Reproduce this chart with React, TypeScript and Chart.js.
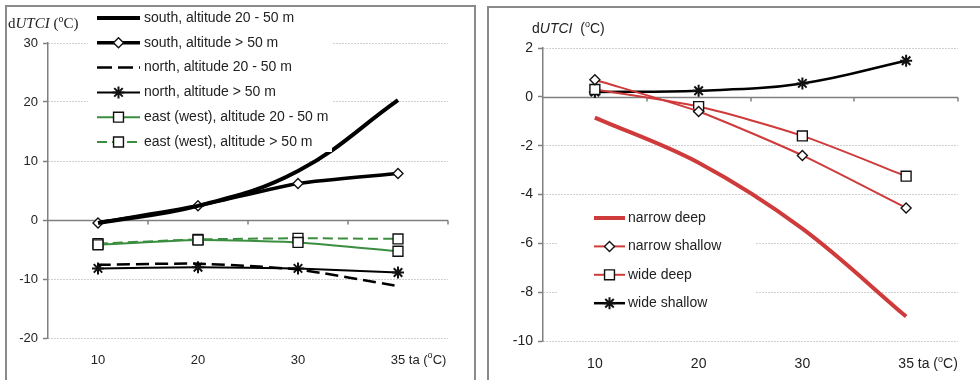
import React, { useEffect, useRef } from 'react';
import { Chart, registerables } from 'chart.js';
import { drawPoint } from 'chart.js/helpers';

Chart.register(...registerables);

// ---------------- data ----------------
const categories = ['10', '20', '30', '35'];

const leftLabels = [
  'south, altitude 20 - 50 m',
  'south, altitude > 50 m',
  'north, altitude 20 - 50 m',
  'north, altitude > 50 m',
  'east (west), altitude 20 - 50 m',
  'east (west), altitude > 50 m',
];
const southLow = [-0.5, 2.4, 8.3, 20.3];
const southHigh = [-0.5, 2.4, 6.2, 7.9];
const northLow = [-7.6, -7.4, -8.4, -11.2];
const northHigh = [-8.2, -8.0, -8.2, -8.9];
const eastLow = [-4.2, -3.4, -3.8, -5.3];
const eastHigh = [-4.0, -3.3, -3.1, -3.2];
const leftYMin = -20;
const leftYMax = 30;
const leftYStep = 10;

const rightLabels = ['narrow deep', 'narrow shallow', 'wide deep', 'wide shallow'];
const narrowDeep = [-0.85, -2.7, -5.4, -9.0];
const narrowShallow = [0.7, -0.6, -2.4, -4.55];
const wideDeep = [0.3, -0.4, -1.6, -3.25];
const wideShallow = [0.2, 0.25, 0.55, 1.48];
const rightYMin = -10;
const rightYMax = 2;
const rightYStep = 2;

// ---------------- styles ----------------
const SANS = "'Liberation Sans', Arial, Helvetica, sans-serif";
const SERIF = "'Liberation Serif', 'Times New Roman', serif";
const TEXT = '#222222';
const AXIS = '#808080';
const GRID = '#a0a0a0';
const RED = '#cf3a3a';
const GREEN = '#3b8e3f';

type Run = { t: string; font: string; dy?: number };

function drawRuns(ctx: CanvasRenderingContext2D, x: number, y: number, runs: Run[], baseline: CanvasTextBaseline = 'alphabetic') {
  ctx.save();
  ctx.fillStyle = TEXT;
  ctx.textAlign = 'left';
  ctx.textBaseline = baseline;
  let cx = x;
  for (const r of runs) {
    ctx.font = r.font;
    ctx.fillText(r.t, cx, y + (r.dy || 0));
    cx += ctx.measureText(r.t).width;
  }
  ctx.restore();
}

type LegendCfg = {
  box: [number, number, number, number];
  x0: number;
  x1: number;
  textX: number;
  y0: number;
  dy: number;
  font: string;
};

type OverlayCfg = {
  id: string;
  legend: LegendCfg;
  title: { x: number; y: number; runs: Run[] };
  unitRuns: Run[];
};

function overlayPlugin(o: OverlayCfg) {
  return {
    id: 'overlay_' + o.id,
    beforeDatasetsDraw(chart: any) {
      const { ctx, chartArea: a, scales } = chart;
      const y0 = Math.round(scales.y.getPixelForValue(0)) + 0.5;
      ctx.save();
      ctx.strokeStyle = AXIS;
      ctx.lineWidth = 1.5;
      ctx.beginPath();
      ctx.moveTo(a.left, y0);
      ctx.lineTo(a.right, y0);
      const n = categories.length;
      const w = (a.right - a.left) / n;
      for (let i = 1; i <= n; i++) {
        const x = Math.round(a.left + i * w);
        ctx.moveTo(x, y0);
        ctx.lineTo(x, y0 + 4);
      }
      ctx.stroke();
      ctx.restore();
    },
    afterDatasetsDraw(chart: any) {
      const { ctx } = chart;
      const L = o.legend;
      ctx.save();
      ctx.fillStyle = '#ffffff';
      ctx.fillRect(L.box[0], L.box[1], L.box[2], L.box[3]);
      chart.data.datasets.forEach((d: any, i: number) => {
        const y = L.y0 + i * L.dy;
        ctx.save();
        ctx.strokeStyle = d.borderColor;
        ctx.lineWidth = d.borderWidth;
        ctx.setLineDash(d.legendDash || d.borderDash || []);
        ctx.beginPath();
        ctx.moveTo(L.x0, y);
        ctx.lineTo(L.x1, y);
        ctx.stroke();
        ctx.setLineDash([]);
        if (d.pointRadius > 0) {
          ctx.fillStyle = d.pointBackgroundColor;
          ctx.strokeStyle = d.pointBorderColor;
          ctx.lineWidth = d.pointBorderWidth;
          drawPoint(ctx, { pointStyle: d.pointStyle, radius: d.pointRadius, rotation: 0, borderWidth: d.pointBorderWidth } as any, (L.x0 + L.x1) / 2, y);
        }
        ctx.fillStyle = TEXT;
        ctx.font = L.font;
        ctx.textBaseline = 'middle';
        ctx.textAlign = 'left';
        ctx.fillText(d.label, L.textX, y);
        ctx.restore();
      });
      ctx.restore();
    },
    afterDraw(chart: any) {
      const { ctx } = chart;
      drawRuns(ctx, o.title.x, o.title.y, o.title.runs);
      const xs = chart.scales.x;
      const last = categories.length - 1;
      let items: any[] = [];
      try {
        items = xs.getLabelItems();
      } catch (e) {
        items = [];
      }
      const it = items[last];
      ctx.save();
      const tickFont = xs.options.ticks.font;
      ctx.font = `${tickFont.size}px ${SANS}`;
      const lw = ctx.measureText(categories[last]).width;
      ctx.restore();
      const cx = xs.getPixelForValue(last) + lw / 2;
      if (it) {
        const ty = it.options.translation[1] + (it.textOffset || 0);
        drawRuns(ctx, cx, ty, o.unitRuns, it.options.textBaseline || 'middle');
      } else {
        drawRuns(ctx, cx, chart.chartArea.bottom + 22, o.unitRuns, 'middle');
      }
    },
  };
}

type Geo = { padTop: number; padRight: number; yWidth: number; xHeight: number; fontSize: number; xPad: number };

function baseOptions(yMin: number, yMax: number, step: number, g: Geo): any {
  return {
    responsive: false,
    animation: false,
    devicePixelRatio: 1,
    events: [],
    layout: { padding: { top: g.padTop, right: g.padRight, left: 0, bottom: 0 } },
    plugins: { legend: { display: false }, tooltip: { enabled: false }, title: { display: false } },
    scales: {
      x: {
        type: 'category',
        labels: categories,
        offset: true,
        grid: { display: false, drawTicks: false },
        border: { display: false },
        ticks: { font: { family: SANS, size: g.fontSize }, color: TEXT, padding: g.xPad, maxRotation: 0, autoSkip: false },
        afterFit: (s: any) => {
          s.height = g.xHeight;
        },
      },
      y: {
        min: yMin,
        max: yMax,
        ticks: { stepSize: step, font: { family: SANS, size: g.fontSize }, color: TEXT, padding: 5 },
        grid: {
          color: (c: any) => (c.tick && c.tick.value === 0 ? 'rgba(0,0,0,0)' : GRID),
          tickColor: AXIS,
          tickLength: 5,
          tickWidth: 1.5,
          lineWidth: 1,
          drawTicks: true,
        },
        border: { display: true, color: AXIS, width: 1.5, dash: [1, 2] },
        afterFit: (s: any) => {
          s.width = g.yWidth;
        },
      },
    },
  };
}

function marker(style: string, r: number, bw = 1.4) {
  return {
    pointStyle: style,
    pointRadius: r,
    pointHoverRadius: r,
    pointBackgroundColor: '#ffffff',
    pointBorderColor: '#111111',
    pointBorderWidth: bw,
  };
}

function makeLeft(canvas: HTMLCanvasElement) {
  const datasets = [
    { label: leftLabels[0], data: southLow, borderColor: '#000000', borderWidth: 4, pointRadius: 0, tension: 0.4 },
    { label: leftLabels[1], data: southHigh, borderColor: '#000000', borderWidth: 3.5, tension: 0.2, ...marker('rectRot', 5) },
    { label: leftLabels[2], data: northLow, borderColor: '#000000', borderWidth: 2.5, borderDash: [13, 6], legendDash: [15, 6], pointRadius: 0, tension: 0.2 },
    { label: leftLabels[3], data: northHigh, borderColor: '#000000', borderWidth: 2, tension: 0.1, ...marker('star', 6, 2) },
    { label: leftLabels[4], data: eastLow, borderColor: GREEN, borderWidth: 2, tension: 0.2, ...marker('rect', 7) },
    { label: leftLabels[5], data: eastHigh, borderColor: GREEN, borderWidth: 2, borderDash: [10, 5], tension: 0.2, ...marker('rect', 7) },
  ];
  const sf = (s: number, it = false) => `${it ? 'italic ' : ''}${s}px ${SERIF}`;
  const ss = (s: number) => `${s}px ${SANS}`;
  return new Chart(canvas, {
    type: 'line',
    data: { labels: categories, datasets: datasets as any },
    options: baseOptions(leftYMin, leftYMax, leftYStep, { padTop: 36, padRight: 26, yWidth: 41, xHeight: 42, fontSize: 13, xPad: 15 }),
    plugins: [
      overlayPlugin({
        id: 'left',
        legend: { box: [81, 0, 244, 145], x0: 90, x1: 133, textX: 137, y0: 11, dy: 24.8, font: `14px ${SANS}` },
        title: { x: 1, y: 21, runs: [{ t: 'd', font: sf(15) }, { t: 'UTCI', font: sf(15, true) }, { t: ' (', font: sf(15) }, { t: 'o', font: sf(10), dy: -6 }, { t: 'C)', font: sf(15) }] },
        unitRuns: [{ t: ' ta (', font: ss(13) }, { t: 'o', font: ss(9), dy: -5 }, { t: 'C)', font: ss(13) }],
      }),
    ],
  } as any);
}

function makeRight(canvas: HTMLCanvasElement) {
  const datasets = [
    { label: rightLabels[0], data: narrowDeep, borderColor: RED, borderWidth: 4, pointRadius: 0, tension: 0.35 },
    { label: rightLabels[1], data: narrowShallow, borderColor: RED, borderWidth: 2, tension: 0.2, ...marker('rectRot', 5) },
    { label: rightLabels[2], data: wideDeep, borderColor: RED, borderWidth: 2, tension: 0.25, ...marker('rect', 7) },
    { label: rightLabels[3], data: wideShallow, borderColor: '#000000', borderWidth: 2.5, tension: 0.4, ...marker('star', 6, 2) },
  ];
  const ss = (s: number, it = false) => `${it ? 'italic ' : ''}${s}px ${SANS}`;
  return new Chart(canvas, {
    type: 'line',
    data: { labels: categories, datasets: datasets as any },
    options: baseOptions(rightYMin, rightYMax, rightYStep, { padTop: 40, padRight: 22, yWidth: 54, xHeight: 39, fontSize: 14, xPad: 15 }),
    plugins: [
      overlayPlugin({
        id: 'right',
        legend: { box: [68, 194, 198, 118], x0: 105, x1: 136, textX: 139, y0: 210, dy: 28.4, font: `14px ${SANS}` },
        title: { x: 43, y: 25, runs: [{ t: 'd', font: ss(14) }, { t: 'UTCI', font: ss(14, true) }, { t: '  (', font: ss(14) }, { t: 'o', font: ss(9), dy: -6 }, { t: 'C)', font: ss(14) }] },
        unitRuns: [{ t: ' ta (', font: ss(14) }, { t: 'o', font: ss(9), dy: -5 }, { t: 'C)', font: ss(14) }],
      }),
    ],
  } as any);
}

function ChartCanvas(props: { left: number; top: number; width: number; height: number; make: (c: HTMLCanvasElement) => Chart }) {
  const ref = useRef<HTMLCanvasElement>(null);
  useEffect(() => {
    const c = props.make(ref.current as HTMLCanvasElement);
    return () => c.destroy();
  }, []);
  return (
    <canvas
      ref={ref}
      width={props.width}
      height={props.height}
      style={{ position: 'absolute', left: props.left, top: props.top, width: props.width, height: props.height, display: 'block' }}
    />
  );
}

export default function App() {
  return (
    <div style={{ position: 'absolute', left: 0, top: 0, width: 980, height: 380, overflow: 'hidden', background: '#ffffff' }}>
      <div style={{ position: 'absolute', left: 5, top: 5, width: 471, height: 420, border: '2px solid #8a8a8a', boxSizing: 'border-box' }} />
      <div style={{ position: 'absolute', left: 487, top: 6, width: 520, height: 420, border: '2px solid #8a8a8a', boxSizing: 'border-box' }} />
      <ChartCanvas left={7} top={7} width={467} height={373} make={makeLeft} />
      <ChartCanvas left={489} top={8} width={491} height={372} make={makeRight} />
    </div>
  );
}
